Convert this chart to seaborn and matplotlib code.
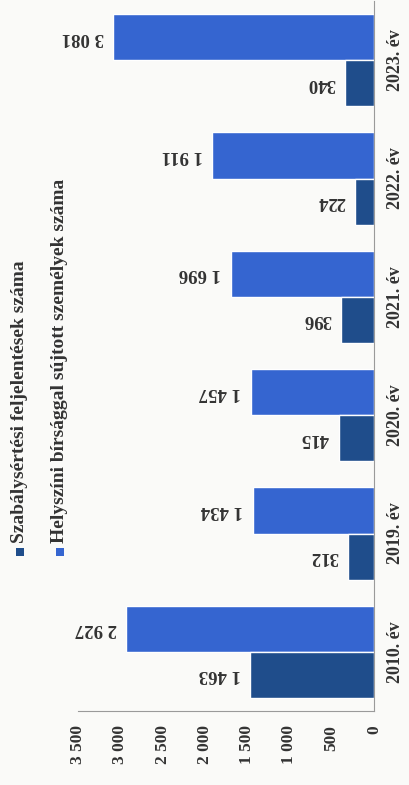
import numpy as np
import pandas as pd
import matplotlib
matplotlib.use("Agg")
import matplotlib.pyplot as plt
import seaborn as sns
from matplotlib.patches import Rectangle

# --- data ---
years = ['2010. év', '2019. év', '2020. év', '2021. év', '2022. év', '2023. év']
feljelentes = [1463, 312, 415, 396, 224, 340]
helyszini = [2927, 1434, 1457, 1696, 1911, 3081]
value_ticks = [0, 500, 1000, 1500, 2000, 2500, 3000, 3500]

s_dark = 'Szabálysértési feljelentések száma'
s_light = 'Helyszíni bírsággal sújtott személyek száma'
c_dark = '#1f4d8b'
c_light = '#3565d0'

df = pd.DataFrame({
    'ev': years * 2,
    'ertek': feljelentes + helyszini,
    'sorozat': [s_dark] * len(years) + [s_light] * len(years),
})

def hu(v):
    return f"{v:,.0f}".replace(",", " ")

sns.set_style("white")
plt.rcParams['font.family'] = ['Liberation Serif', 'DejaVu Serif']
plt.rcParams['font.weight'] = 'bold'

fig = plt.figure(figsize=(4.09, 7.85), dpi=100, facecolor='#fafaf8')
ax = fig.add_axes([78 / 409, 74 / 785, 296 / 409, 710 / 785])
ax.set_facecolor('#fafaf8')

# chart is drawn turned a quarter turn: years bottom->top, values right->left
sns.barplot(data=df, x='ertek', y='ev', hue='sorozat', orient='h',
            order=years[::-1], hue_order=[s_light, s_dark],
            palette=[c_light, c_dark], saturation=1, width=0.78,
            legend=False, ax=ax)

ax.set_xlim(3500, 0)
ax.set_ylim(5.5, -0.5)
ax.set_xlabel('')
ax.set_ylabel('')

# value axis (bottom)
ax.set_xticks(value_ticks)
ax.set_xticklabels([hu(v) for v in value_ticks], rotation=90,
                   fontsize=12.5, fontweight='bold', color='#333333')
ax.tick_params(axis='x', length=3, width=0.6, color='#999999', pad=10, direction='in')

# category axis (right)
ax.yaxis.tick_right()
for lab in ax.get_yticklabels():
    lab.set_rotation(90)
    lab.set_va('center')
    lab.set_fontsize(13)
    lab.set_fontweight('bold')
    lab.set_color('#333333')
ax.tick_params(axis='y', length=0, pad=9)

for side in ['top', 'left']:
    ax.spines[side].set_visible(False)
for side in ['right', 'bottom']:
    ax.spines[side].set_color('#9a9a9a')
    ax.spines[side].set_linewidth(0.8)

# value labels, upside-down like the scanned page
for cont in ax.containers:
    for bar in cont:
        w = bar.get_width()
        yc = bar.get_y() + bar.get_height() / 2
        ax.annotate(hu(w), (w, yc), xytext=(-7, 0), textcoords='offset points',
                    rotation=180, ha='right', va='center',
                    fontsize=13.5, fontweight='bold', color='#333333')

# legend, turned like the rest
leg = [(s_dark, c_dark, 20), (s_light, c_light, 60)]
for txt, col, xp in leg:
    fig.add_artist(Rectangle(((xp - 4) / 409, 1 - 556 / 785), 8 / 409, 8 / 785,
                             transform=fig.transFigure, facecolor=col, edgecolor='none'))
    fig.text(xp / 409, 1 - 543 / 785, txt, rotation=90, ha='center', va='bottom',
             fontsize=14, fontweight='bold', color='#333333')

fig.savefig('out.png', dpi=100, facecolor=fig.get_facecolor())
